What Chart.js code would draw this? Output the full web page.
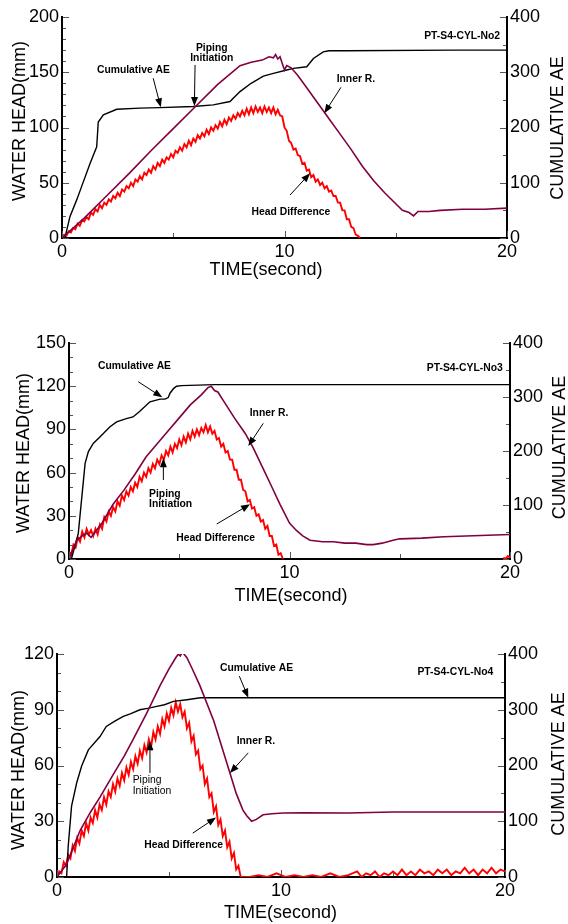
<!DOCTYPE html>
<html lang="en">
<head>
<meta charset="UTF-8" />
<title>PT-S4-CYL piping tests</title>
<style>
  body {
    margin: 0;
    background: #fff;
    width: 568px;
    height: 924px;
    position: relative;
    overflow: hidden;
  }
  canvas {
    position: absolute;
    left: 0;
    display: block;
  }
</style>
</head>
<body>

<canvas id="c1" width="568" height="300" style="top:0px"></canvas>
<canvas id="c2" width="568" height="310" style="top:300px"></canvas>
<canvas id="c3" width="568" height="314" style="top:610px"></canvas>

<script src="https://cdn.jsdelivr.net/npm/chart.js"></script>
<script>
  // ---- PT-S4-CYL-No2 ----
  const no2InnerT = [0,1,2,3,4,5,6,7,8,8.5,9,9.3,9.5,9.6,9.7,9.8,9.9,10,10.1,10.3,10.6,11,11.5,12,12.5,13,13.5,14,14.5,15,15.3,15.6,15.8,16,16.5,17,18,19,20];
  const no2InnerV = [0,18,38,58,79,99,119,139,156,159,161,164,163,166,162,164,158,152,156,154,147,136,122,108,94,80,65,52,41,31,25,23,20,24,24,25,26,26,27];
  const no2HeadT = [0,0.1,0.2,0.3,0.4,0.5,0.6,0.7,0.8,0.9,1,1.1,1.2,1.3,1.4,1.5,1.6,1.7,1.8,1.9,
    2,2.1,2.2,2.3,2.4,2.5,2.6,2.7,2.8,2.9,3,3.1,3.2,3.3,3.4,3.5,3.6,3.7,3.8,3.9,
    4,4.1,4.2,4.3,4.4,4.5,4.6,4.7,4.8,4.9,5,5.1,5.2,5.3,5.4,5.5,5.6,5.7,5.8,5.9,
    6,6.1,6.2,6.3,6.4,6.5,6.6,6.7,6.8,6.9,7,7.1,7.2,7.3,7.4,7.5,7.6,7.7,7.8,7.9,
    8,8.1,8.2,8.3,8.4,8.5,8.6,8.7,8.8,8.9,9,9.1,9.2,9.3,9.4,9.5,9.6,9.7,9.8,9.9,
    10,10.1,10.2,10.3,10.4,10.5,10.6,10.7,10.8,10.9,11,11.1,11.2,11.3,11.4,11.5,11.6,11.7,11.8,11.9,
    12,12.1,12.2,12.3,12.4,12.5,12.6,12.7,12.8,12.9,13,13.1,13.2,13.3,13.4];
  const no2HeadV = [0,3,2,6,5,9,8,13,11,16,15,19,17,23,21,26,24,30,27,32,
    30,35,33,38,36,41,38,44,42,47,45,50,47,53,51,56,53,59,57,62,
    59,65,62,68,65,71,68,73,71,76,73,79,77,82,79,85,82,88,84,90,
    87,93,90,95,92,98,94,100,97,102,99,105,101,107,103,109,106,111,108,113,
    110,115,111,117,112,118,113,119,114,118,113,119,114,118,113,118,112,116,111,110,
    100,97,88,86,80,81,75,74,67,68,61,62,55,57,51,53,48,50,45,47,
    42,43,38,38,32,32,25,25,17,17,10,9,3,2,0];
  const no2AET = [0,0.13,0.36,0.66,0.88,1.26,1.56,1.63,1.86,2.46,3.5,4.4,5.9,6.8,7.55,8,8.5,9.05,9.5,10.1,10.4,11,11.3,11.74,12,12.8,17.6,20];
  const no2AEV = [0,0,39,69,93,135,165,210,223,233,235,236,238,241,247,265,280,293,298,304,307,310,325,337,339,339,340,340];

  // ---- PT-S4-CYL-No3 ----
  const no3InnerT = [0,0.35,0.6,0.8,1,1.2,1.5,2,2.5,3,3.5,4,4.5,5,5.5,6,6.3,6.45,6.6,6.75,7,7.5,8,8.36,8.8,9.2,9.57,10,10.3,10.6,10.93,11.5,12,12.5,13,13.5,13.8,14.2,14.7,15,16,17,18,19,20];
  const no3InnerV = [0,13,16,18,15,19,25,38,48,59,71,80,89,98,107,114,119,120,117,116,110,98,87,77,63,50,38,25,20,16,13,12,12,11,11,10,10,11,13,14,14.5,15.5,16,16.5,17];
  const no3HeadT = [0,0.1,0.2,0.3,0.4,0.5,0.6,0.7,0.8,0.9,1,1.1,1.2,1.3,1.4,1.5,1.6,1.7,1.8,1.9,
    2,2.1,2.2,2.3,2.4,2.5,2.6,2.7,2.8,2.9,3,3.1,3.2,3.3,3.4,3.5,3.6,3.7,3.8,3.9,
    4,4.1,4.2,4.3,4.4,4.5,4.6,4.7,4.8,4.9,5,5.1,5.2,5.3,5.4,5.5,5.6,5.7,5.8,5.9,
    6,6.1,6.2,6.3,6.4,6.5,6.6,6.7,6.8,6.9,7,7.1,7.2,7.3,7.4,7.5,7.6,7.7,7.8,7.9,
    8,8.1,8.2,8.3,8.4,8.5,8.6,8.7,8.8,8.9,9,9.1,9.2,9.3,9.4,9.5,9.6,9.7,9.8,
    19.7,19.8,19.9,20];
  const no3HeadV = [5,3,10,8,15,12,19,15,21,17,20,16,21,17,24,21,29,26,33,30,
    36,33,40,37,44,41,47,44,50,47,53,50,57,54,60,57,63,60,66,63,
    69,66,72,69,75,72,78,74,80,77,83,79,85,81,87,83,89,85,90,86,
    91,88,93,88,92,87,89,83,84,78,80,74,75,69,69,62,62,55,55,48,
    47,40,41,35,36,30,31,26,27,21,23,16,16,9,10,3,4,0,null,
    1,0,2,1];
  const no3AET = [0,0.12,0.42,0.73,0.88,1.1,1.4,1.86,2.16,2.6,2.9,3.2,3.67,4.13,4.35,4.5,4.58,4.75,4.88,5.1,6.6,20];
  const no3AEV = [0,2,47,177,199,214,226,245,254,260,263,273,291,296,296,299,307,316,320,321,323,323];

  // ---- PT-S4-CYL-No4 ----
  const no4InnerT = [0,0.43,1.03,1.5,1.92,2.5,3,3.4,4,4.6,5,5.3,5.42,5.5,5.6,5.8,6,6.38,7,7.72,8,8.3,8.47,8.69,8.9,9.2,9.6,10.1,11,13,15,17,20];
  const no4InnerV = [0,7,25,35,43,55,65,74,88,103,112,118,120,119,121,118,113,103,84,56,45,36,33,30,31,33.5,34,34.4,34.5,34.4,35,35,35];
  const no4HeadT = [0,0.1,0.2,0.3,0.4,0.5,0.6,0.7,0.8,0.9,1,1.1,1.2,1.3,1.4,1.5,1.6,1.7,1.8,1.9,
    2,2.1,2.2,2.3,2.4,2.5,2.6,2.7,2.8,2.9,3,3.1,3.2,3.3,3.4,3.5,3.6,3.7,3.8,3.9,
    4,4.1,4.2,4.3,4.4,4.5,4.6,4.7,4.8,4.9,5,5.1,5.2,5.3,5.4,5.5,5.6,5.7,5.8,5.9,
    6,6.1,6.2,6.3,6.4,6.5,6.6,6.7,6.8,6.9,7,7.1,7.2,7.3,7.4,7.5,7.6,7.7,7.8,7.9,
    8,8.1,8.2,8.3,
    8.6,9,9.4,9.8,10.2,10.6,11,11.4,11.8,12.2,12.6,13,13.4,13.6,13.8,14,14.2,14.4,14.6,14.8,
    15,15.2,15.4,15.6,15.8,16,16.2,16.4,16.6,16.8,17,17.2,17.4,17.6,17.8,18,18.2,18.4,18.6,18.8,
    19,19.2,19.4,19.6,19.8,20];
  const no4HeadV = [0,3,2,8,6,12,10,17,14,21,18,25,22,29,25,32,29,36,32,39,
    36,43,39,46,43,50,46,53,49,56,52,59,55,62,58,65,61,68,64,71,
    67,74,70,78,74,81,77,85,81,88,84,91,87,94,89,93,86,89,80,83,
    73,76,66,68,58,60,50,53,43,45,35,38,28,31,22,25,16,19,10,13,
    4,6,0,0,
    0,1,0,2,0,1,0,1,0,2,0,1,3,0,2,1,3,0,2,1,
    3,1,4,1,3,1,4,2,3,1,4,2,4,1,3,2,5,2,4,1,
    4,2,5,2,4,3];
  const no4AET = [0,0.43,0.5,0.65,0.88,1.1,1.4,1.92,2.2,2.6,2.96,3.3,3.7,4.1,4.45,4.8,5.2,5.8,6.4,20];
  const no4AEV = [0,0,55,127,169,199,228,252,270,280,288,293,300,303,306,309,315,318,321.5,321.5];

  // labels and arrows, in data units (time, water head)
  const no2Notes = [
    { lines: ['Cumulative AE'], t: 3.21, v: 152 },
    { lines: ['Piping', 'Initiation'], t: 6.73, v: 172 },
    { lines: ['Inner R.'], t: 13.21, v: 144 },
    { lines: ['Head Difference'], t: 10.29, v: 23.5 },
    { lines: ['PT-S4-CYL-No2'], t: 19.69, v: 183, align: 'right' }
  ];
  const no2Arrows = [[4.10, 144.5, 4.44, 118.3], [5.98, 156.6, 5.95, 119.5], [12.54, 136.4, 11.79, 112.9], [10.25, 38.9, 11.15, 58.6]];

  const no3Notes = [
    { lines: ['Cumulative AE'], t: 2.97, v: 134 },
    { lines: ['Inner R.'], t: 9.07, v: 101.4 },
    { lines: ['Piping', 'Initiation'], t: 3.63, v: 45.6, align: 'left' },
    { lines: ['Head Difference'], t: 6.65, v: 14.4 },
    { lines: ['PT-S4-CYL-No3'], t: 19.67, v: 132.8, align: 'right' }
  ];
  const no3Arrows = [[3.14, 123.1, 4.23, 112.3], [8.81, 94.2, 8.13, 78.5], [4.28, 54.9, 4.28, 69.9], [6.70, 24.3, 8.21, 38]];

  const no4Notes = [
    { lines: ['Cumulative AE'], t: 8.91, v: 112.8 },
    { lines: ['Inner R.'], t: 8.88, v: 73.4 },
    { lines: ['Piping', 'Initiation'], t: 3.38, v: 52.4, align: 'left', bold: false },
    { lines: ['Head Difference'], t: 5.65, v: 17.3 },
    { lines: ['PT-S4-CYL-No4'], t: 19.48, v: 110.3, align: 'right' }
  ];
  const no4Arrows = [[8.14, 108.1, 8.54, 96.5], [8.54, 66.8, 7.72, 56], [4.15, 56, 4.15, 73], [6.06, 23.6, 7.10, 32]];

  const FONT = '"Liberation Sans", Arial, sans-serif';
  const PURPLE = '#800040';

  function pts(ts, vs) {
    return ts.map((t, i) => ({ x: t, y: vs[i] }));
  }

  function arrow(ctx, x1, y1, x2, y2) {
    const a = Math.atan2(y2 - y1, x2 - x1);
    const L = 9, W = 3.5;
    const c = Math.cos(a), s = Math.sin(a);
    ctx.beginPath();
    ctx.moveTo(x1, y1);
    ctx.lineTo(x2 - L * c * 0.7, y2 - L * s * 0.7);
    ctx.stroke();
    ctx.beginPath();
    ctx.moveTo(x2, y2);
    ctx.lineTo(x2 - L * c + W * s, y2 - L * s - W * c);
    ctx.lineTo(x2 - L * c - W * s, y2 - L * s + W * c);
    ctx.closePath();
    ctx.fill();
  }

  // inward ticks, annotations, axis titles
  const overlay = {
    id: 'overlay',
    afterDraw(chart, args, o) {
      const { ctx, chartArea: a, scales } = chart;
      const xs = scales.x, yl = scales.y, yr = scales.y2;
      ctx.save();

      ctx.strokeStyle = '#555';
      ctx.lineWidth = 1;
      ctx.beginPath();
      for (let i = 0; i <= 20 / 5; i++) {
        const px = Math.round(xs.getPixelForValue(i * 5)) + 0.5;
        const len = i % 2 === 0 ? 6 : 4;
        ctx.moveTo(px, a.bottom - 1);
        ctx.lineTo(px, a.bottom - 1 - len);
      }
      for (let i = 0; i <= o.ymax / 10; i++) {
        const py = Math.round(yl.getPixelForValue(i * 10)) + 0.5;
        const len = (i * 10) % o.ystep === 0 ? 6 : 3;
        ctx.moveTo(a.left + 1, py);
        ctx.lineTo(a.left + 1 + len, py);
      }
      for (let i = 0; i <= 8; i++) {
        const py = Math.round(yr.getPixelForValue(i * 50)) + 0.5;
        const len = i % 2 === 0 ? 6 : 3;
        ctx.moveTo(a.right - 1, py);
        ctx.lineTo(a.right - 1 - len, py);
      }
      ctx.stroke();

      ctx.strokeStyle = '#000';
      ctx.fillStyle = '#000';
      ctx.lineWidth = 1;
      o.arrows.forEach(([t1, v1, t2, v2]) => {
        arrow(ctx, xs.getPixelForValue(t1), yl.getPixelForValue(v1),
                   xs.getPixelForValue(t2), yl.getPixelForValue(v2));
      });

      ctx.textBaseline = 'middle';
      o.notes.forEach(n => {
        const bold = n.bold !== false;
        ctx.font = (bold ? 'bold ' : '') + '11.5px ' + FONT;
        ctx.textAlign = n.align || 'center';
        const x = xs.getPixelForValue(n.t);
        let y = yl.getPixelForValue(n.v);
        n.lines.forEach(line => {
          ctx.save();
          ctx.translate(x, y);
          ctx.scale(0.9, 1);
          ctx.fillText(line, 0, 0);
          ctx.restore();
          y += bold ? 10 : 11;
        });
      });

      ctx.font = '18px ' + FONT;
      ctx.textAlign = 'center';
      ctx.fillText('TIME(second)', o.bottom[0], o.bottom[1]);
      [['WATER HEAD(mm)', o.left], ['CUMULATIVE AE', o.right]].forEach(([txt, p]) => {
        ctx.save();
        ctx.translate(p[0], p[1]);
        ctx.rotate(-Math.PI / 2);
        ctx.fillText(txt, 0, 0);
        ctx.restore();
      });
      ctx.restore();
    }
  };

  function makeChart(id, cfg) {
    const tickFont = { family: FONT, size: 18 };
    return new Chart(document.getElementById(id), {
      type: 'line',
      data: {
        datasets: [
          { label: 'Inner R.', data: pts(cfg.innerT, cfg.innerV), borderColor: PURPLE, borderWidth: 1.6, yAxisID: 'y' },
          { label: 'Cumulative AE', data: pts(cfg.aeT, cfg.aeV), borderColor: '#000', borderWidth: 1.4, yAxisID: 'y2' },
          { label: 'Head Difference', data: pts(cfg.headT, cfg.headV), borderColor: '#ff0000', borderWidth: 1.9, yAxisID: 'y' }
        ]
      },
      options: {
        responsive: false,
        animation: false,
        devicePixelRatio: 1,
        spanGaps: false,
        elements: { point: { radius: 0 }, line: { tension: 0 } },
        layout: { padding: { top: cfg.top, left: 0, right: 0, bottom: 0 } },
        scales: {
          x: {
            type: 'linear', min: 0, max: 20,
            ticks: { stepSize: 10, padding: 3, font: tickFont, color: '#000', maxRotation: 0 },
            grid: { display: false, drawTicks: false },
            border: { color: '#000', width: 2 },
            afterFit(s) { s.height = cfg.xh; }
          },
          y: {
            position: 'left', min: 0, max: cfg.ymax,
            ticks: { stepSize: cfg.ystep, padding: 3, font: tickFont, color: '#000' },
            grid: { display: false, drawTicks: false },
            border: { color: '#000', width: 2 },
            afterFit(s) { s.width = cfg.lw; }
          },
          y2: {
            position: 'right', min: 0, max: 400,
            ticks: { stepSize: 100, padding: 3, font: tickFont, color: '#000' },
            grid: { display: false, drawTicks: false },
            border: { color: '#000', width: 2 },
            afterFit(s) { s.width = cfg.rw; }
          }
        },
        plugins: {
          legend: { display: false },
          tooltip: { enabled: false },
          overlay: {
            ymax: cfg.ymax, ystep: cfg.ystep,
            notes: cfg.notes, arrows: cfg.arrows,
            left: cfg.titles.left, right: cfg.titles.right, bottom: cfg.titles.bottom
          }
        }
      },
      plugins: [overlay]
    });
  }

  makeChart('c1', {
    innerT: no2InnerT, innerV: no2InnerV, headT: no2HeadT, headV: no2HeadV, aeT: no2AET, aeV: no2AEV,
    ymax: 200, ystep: 50, top: 17, xh: 62, lw: 62, rw: 61,
    notes: no2Notes, arrows: no2Arrows,
    titles: { left: [20, 121], right: [558, 128], bottom: [266, 270] }
  });
  makeChart('c2', {
    innerT: no3InnerT, innerV: no3InnerV, headT: no3HeadT, headV: no3HeadV, aeT: no3AET, aeV: no3AEV,
    ymax: 150, ystep: 30, top: 43, xh: 51, lw: 69, rw: 58,
    notes: no3Notes, arrows: no3Arrows,
    titles: { left: [24.5, 153], right: [560, 147.5], bottom: [291, 296] }
  });
  makeChart('c3', {
    innerT: no4InnerT, innerV: no4InnerV, headT: no4HeadT, headV: no4HeadV, aeT: no4AET, aeV: no4AEV,
    ymax: 120, ystep: 30, top: 44, xh: 47, lw: 57, rw: 63,
    notes: no4Notes, arrows: no4Arrows,
    titles: { left: [19.5, 160], right: [559, 154], bottom: [280.5, 303.5] }
  });
</script>

</body>
</html>
